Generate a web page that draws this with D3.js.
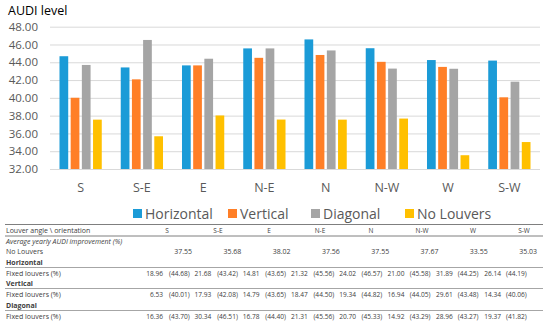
<!DOCTYPE html>
<html>
<head>
<meta charset="utf-8">
<script src="https://cdn.jsdelivr.net/npm/d3@7"></script>
<style>
  body { margin: 0; background: #fff; }
  svg { display: block; font-family: "Open Sans", sans-serif; }
</style>
</head>
<body>
<div id="chart"></div>
<script>
const width = 550;
const height = 328;

const categories = ["S", "S-E", "E", "N-E", "N", "N-W", "W", "S-W"];
const seriesNames = ["Horizontal", "Vertical", "Diagonal", "No Louvers"];
const horizontal = [44.68, 43.42, 43.65, 45.56, 46.57, 45.58, 44.25, 44.19];
const vertical = [40.01, 42.08, 43.65, 44.50, 44.82, 44.05, 43.48, 40.06];
const diagonal = [43.70, 46.51, 44.40, 45.56, 45.33, 43.29, 43.27, 41.82];
const noLouvers = [37.55, 35.68, 38.02, 37.56, 37.55, 37.67, 33.55, 35.03];
const horizontalImpr = [18.96, 21.68, 14.81, 21.32, 24.02, 21.00, 31.89, 26.14];
const verticalImpr = [6.53, 17.93, 14.79, 18.47, 19.34, 16.94, 29.61, 14.34];
const diagonalImpr = [16.36, 30.34, 16.78, 21.31, 20.70, 14.92, 28.96, 19.37];
const yTicks = [32, 34, 36, 38, 40, 42, 44, 46, 48];

const colors = ["#1B9BD7", "#FF7F27", "#A5A5A5", "#FFC000"];
const seriesValues = [horizontal, vertical, diagonal, noLouvers];

const svg = d3.select("#chart")
    .append("svg")
    .attr("width", width)
    .attr("height", height);

// ---- bar chart ----
const x0 = d3.scaleBand()
    .domain(categories)
    .range([50, 540])
    .paddingInner(0.31)
    .paddingOuter(0.155);

const x1 = d3.scaleBand()
    .domain(seriesNames)
    .range([0, x0.bandwidth()])
    .paddingInner(0.22);

const y = d3.scaleLinear()
    .domain([32, 48])
    .range([169, 26.7]);

const color = d3.scaleOrdinal().domain(seriesNames).range(colors);

svg.append("text")
    .attr("x", 8)
    .attr("y", 15)
    .attr("font-size", 12.5)
    .attr("fill", "#000")
    .text("AUDI level");

const yAxis = svg.append("g")
    .attr("transform", "translate(50,0)")
    .call(d3.axisLeft(y).tickValues(yTicks).tickFormat(d3.format(".2f")).tickSize(-490).tickPadding(12));
yAxis.select(".domain").remove();
yAxis.selectAll("line").attr("stroke", "#D9D9D9");
yAxis.selectAll("text")
    .attr("font-family", "Open Sans")
    .attr("font-size", 11.5)
    .attr("fill", "#595959");

const xAxis = svg.append("g")
    .attr("transform", `translate(0,${y(32)})`)
    .call(d3.axisBottom(x0).tickSize(0).tickPadding(14));
xAxis.select(".domain").remove();
xAxis.selectAll("text")
    .attr("font-family", "Open Sans")
    .attr("font-size", 12.5)
    .attr("fill", "#595959");

const rows = categories.map((c, i) => ({
    cat: c,
    vals: seriesNames.map((s, j) => ({ key: s, value: seriesValues[j][i] }))
}));

svg.append("g").selectAll("g")
    .data(rows)
    .join("g")
    .attr("transform", d => `translate(${x0(d.cat)},0)`)
    .selectAll("rect")
    .data(d => d.vals)
    .join("rect")
    .attr("x", d => x1(d.key))
    .attr("width", x1.bandwidth())
    .attr("y", d => y(d.value))
    .attr("height", d => y(32) - y(d.value))
    .attr("fill", d => color(d.key));

// ---- legend ----
const legendX = [133, 228, 311, 405];
const legend = svg.append("g").selectAll("g")
    .data(seriesNames)
    .join("g")
    .attr("transform", (d, i) => `translate(${legendX[i]},214)`);
legend.append("rect")
    .attr("y", -5)
    .attr("width", 9)
    .attr("height", 9)
    .attr("fill", d => color(d));
legend.append("text")
    .attr("x", 12)
    .attr("y", 4.5)
    .attr("font-size", 14)
    .attr("fill", "#595959")
    .text(d => d);

// ---- table ----
const tbl = svg.append("g").attr("font-size", 7).attr("fill", "#404040");
const headerX = d3.scaleLinear().domain([0, 7]).range([167, 524]);
const noLouvX = d3.scaleLinear().domain([0, 7]).range([192, 537]);
const valX = d3.scaleLinear().domain([0, 7]).range([163, 501]);
const parX = d3.scaleLinear().domain([0, 7]).range([169, 506]);

const lines = [
    { y: 224.5, w: 1.2, c: "#7f7f7f" },
    { y: 236, w: 1, c: "#7f7f7f" },
    { y: 267.5, w: 1, c: "#a6a6a6" },
    { y: 288.5, w: 1, c: "#a6a6a6" },
    { y: 310.5, w: 1, c: "#a6a6a6" }
];
tbl.selectAll("line")
    .data(lines)
    .join("line")
    .attr("x1", 5).attr("x2", 543)
    .attr("y1", d => d.y).attr("y2", d => d.y)
    .attr("stroke", d => d.c)
    .attr("stroke-width", d => d.w);

tbl.append("text").attr("x", 6).attr("y", 232.5).text("Louver angle \\ orientation");
tbl.selectAll(".hdr")
    .data(categories)
    .join("text")
    .attr("class", "hdr")
    .attr("x", (d, i) => headerX(i))
    .attr("y", 232.5)
    .attr("text-anchor", "middle")
    .attr("font-size", 6.5)
    .text(d => d);

tbl.append("text").attr("x", 6).attr("y", 243.5)
    .attr("font-style", "italic").text("Average yearly AUDI improvement (%)");
tbl.append("text").attr("x", 6).attr("y", 253.5).text("No Louvers");
tbl.selectAll(".nl")
    .data(noLouvers)
    .join("text")
    .attr("class", "nl")
    .attr("x", (d, i) => noLouvX(i))
    .attr("y", 253.5)
    .attr("text-anchor", "end")
    .text(d => d.toFixed(2));

const sections = [
    { name: "Horizontal", impr: horizontalImpr, vals: horizontal, ty: 264.5, ry: 275.5 },
    { name: "Vertical", impr: verticalImpr, vals: vertical, ty: 285.5, ry: 296.5 },
    { name: "Diagonal", impr: diagonalImpr, vals: diagonal, ty: 308, ry: 318.5 }
];
sections.forEach(s => {
    tbl.append("text").attr("x", 6).attr("y", s.ty)
        .attr("font-weight", "bold").text(s.name);
    tbl.append("text").attr("x", 6).attr("y", s.ry).text("Fixed louvers (%)");
    tbl.append("g").selectAll("text")
        .data(s.impr)
        .join("text")
        .attr("x", (d, i) => valX(i))
        .attr("y", s.ry)
        .attr("text-anchor", "end")
        .attr("font-size", 6.6)
        .text(d => d.toFixed(2));
    tbl.append("g").selectAll("text")
        .data(s.vals)
        .join("text")
        .attr("x", (d, i) => parX(i))
        .attr("y", s.ry)
        .attr("font-size", 6.6)
        .text(d => `(${d.toFixed(2)})`);
});
</script>
</body>
</html>
